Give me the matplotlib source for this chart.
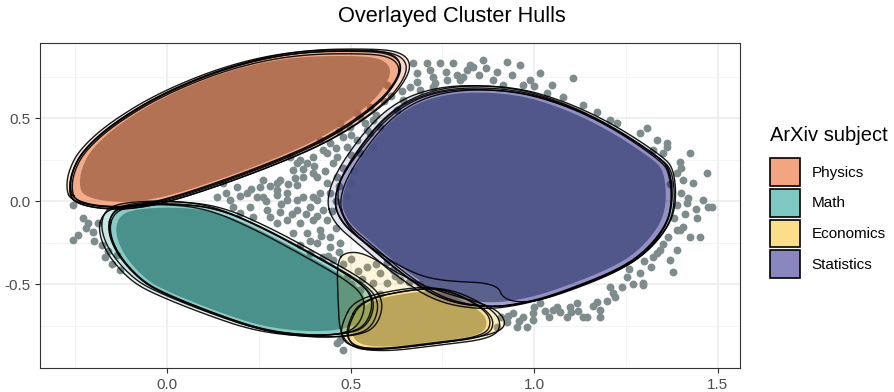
"""
Overlayed cluster hulls: scatter of documents + several bootstrap hulls per subject
"""
import numpy as np
import matplotlib.pyplot as plt
from matplotlib.colors import to_rgba
from matplotlib.patches import Patch

plt.rcParams['font.family'] = ['Liberation Sans', 'DejaVu Sans']
plt.rcParams['axes.unicode_minus'] = False

# --- data -------------------------------------------------------------
subjects = ['Physics', 'Math', 'Economics', 'Statistics']
fill_colors = ['#e94c05', '#009085', '#fbbc14', '#140f82']
point_color = '#7f8c8d'

x_ticks = [0.0, 0.5, 1.0, 1.5]
x_tick_labels = ['0.0', '0.5', '1.0', '1.5']
y_ticks = [-0.5, 0.0, 0.5]
y_tick_labels = ['-0.5', '0.0', '0.5']

# hull outlines (data coords)
physics_hull = [(-0.264, 0.066), (-0.251, 0.006), (-0.191, -0.030), (-0.101, -0.036),
                (0.022, 0.018), (0.262, 0.205), (0.444, 0.380), (0.580, 0.590),
                (0.629, 0.729), (0.640, 0.819), (0.616, 0.880), (0.553, 0.904),
                (0.354, 0.898), (0.172, 0.813), (-0.011, 0.651), (-0.147, 0.470),
                (-0.229, 0.307), (-0.259, 0.175)]
math_hull = [(-0.163, -0.175), (-0.150, -0.066), (-0.101, -0.024), (0.016, -0.012),
             (0.136, -0.042), (0.262, -0.163), (0.398, -0.325), (0.531, -0.494),
             (0.567, -0.596), (0.553, -0.729), (0.512, -0.795), (0.398, -0.813),
             (0.262, -0.777), (0.125, -0.675), (-0.011, -0.554), (-0.074, -0.476),
             (-0.136, -0.325)]
econ_hull = [(0.491, -0.747), (0.526, -0.596), (0.670, -0.530), (0.758, -0.530),
             (0.853, -0.627), (0.894, -0.717), (0.875, -0.819), (0.717, -0.861),
             (0.608, -0.892), (0.526, -0.886), (0.491, -0.837)]
econ_hull_wide = [(0.463, -0.367), (0.485, -0.307), (0.540, -0.313), (0.635, -0.446),
                  (0.744, -0.548), (0.880, -0.627), (0.926, -0.717), (0.907, -0.795),
                  (0.771, -0.849), (0.580, -0.898), (0.512, -0.892), (0.471, -0.807),
                  (0.466, -0.596)]
stats_hull = [(0.452, 0.024), (0.471, -0.127), (0.545, -0.265), (0.635, -0.434),
              (0.744, -0.596), (0.872, -0.645), (0.989, -0.608), (1.090, -0.536),
              (1.226, -0.416), (1.302, -0.307), (1.362, -0.145), (1.379, 0.006),
              (1.371, 0.187), (1.343, 0.259), (1.215, 0.446), (1.079, 0.590),
              (0.935, 0.681), (0.744, 0.681), (0.608, 0.548), (0.499, 0.247)]
stats_hull_alt = [(0.457, 0.066), (0.485, -0.145), (0.563, -0.295), (0.662, -0.428),
                  (0.744, -0.482), (0.899, -0.494), (0.916, -0.596), (0.989, -0.614),
                  (1.090, -0.548), (1.226, -0.428), (1.302, -0.319), (1.362, -0.151),
                  (1.376, 0.006), (1.368, 0.175), (1.343, 0.247), (1.215, 0.440),
                  (1.079, 0.584), (0.935, 0.669), (0.744, 0.675), (0.613, 0.542),
                  (0.504, 0.247)]

# small shifts / scalings of each hull (dx, dy, scale) -> the overlaid resamples
physics_shifts = [(0, 0, 1.0), (0.006, -0.006, 1.02), (-0.006, 0.004, 1.01),
                  (0.01, 0.0, 1.03), (0.0, -0.01, 0.99)]
math_shifts = [(0, 0, 1.0), (-0.012, 0.008, 1.02), (0.008, -0.008, 1.01),
               (-0.025, -0.005, 1.0), (0.012, 0.0, 1.03)]
econ_shifts = [(0, 0, 1.0), (0.01, -0.005, 1.04), (-0.012, 0.005, 1.02)]
stats_shifts = [(0, 0, 1.0), (0.005, 0.005, 1.01), (-0.01, 0.0, 1.02), (0.01, -0.005, 0.99)]

# grey points that sit outside the hulls
free_points = [
    (0.670, 0.831), (0.708, 0.831), (0.744, 0.831), (0.681, 0.771), (0.717, 0.789),
    (0.779, 0.831), (0.818, 0.789), (0.834, 0.807), (0.725, 0.747), (0.763, 0.729),
    (0.798, 0.729), (0.662, 0.687), (0.689, 0.669), (0.725, 0.687), (0.643, 0.608),
    (0.627, 0.548), (0.826, 0.819), (0.861, 0.849), (0.926, 0.837), (0.962, 0.819),
    (0.807, 0.747), (0.888, 0.729), (0.916, 0.699), (0.989, 0.729), (1.016, 0.771),
    (1.106, 0.741), (1.036, 0.651), (1.079, 0.627), (1.134, 0.578), (1.172, 0.536),
    (1.207, 0.488), (1.226, 0.470), (1.289, 0.410), (1.308, 0.440), (1.335, 0.367),
    (1.362, 0.349), (1.425, 0.289), (1.398, 0.235), (1.472, 0.169),
    (0.76, 0.78), (0.79, 0.76), (0.85, 0.76), (0.87, 0.80), (0.90, 0.78), (0.94, 0.76),
    (0.97, 0.70), (1.00, 0.69), (1.05, 0.70), (0.73, 0.71), (0.68, 0.72), (0.64, 0.66),
    (0.553, 0.566), (0.526, 0.506), (0.561, 0.488), (0.545, 0.428), (0.518, 0.530),
    (0.499, 0.446), (0.471, 0.470), (0.480, 0.386), (0.518, 0.367), (0.491, 0.325),
    (0.444, 0.349), (0.417, 0.367), (0.436, 0.289), (0.452, 0.229), (0.398, 0.265),
    (0.382, 0.229), (0.362, 0.247), (0.343, 0.187), (0.371, 0.145), (0.335, 0.265),
    (0.308, 0.127), (0.409, 0.145), (0.436, 0.108), (0.463, 0.145), (0.417, 0.048),
    (0.300, 0.066), (0.327, 0.048), (0.526, 0.289), (0.561, 0.325), (0.553, 0.410),
    (0.580, 0.446), (0.354, 0.229), (0.398, 0.169), (0.425, 0.307), (0.463, 0.265),
    (0.262, 0.127), (0.218, 0.048), (0.191, 0.084), (0.153, 0.108), (0.136, 0.024),
    (0.172, 0.006), (0.245, 0.024), (0.354, 0.006), (0.398, 0.024), (0.444, 0.048),
    (0.60, 0.70), (0.61, 0.63), (0.59, 0.60), (0.57, 0.52), (0.54, 0.47), (0.50, 0.40),
    (0.47, 0.42), (0.46, 0.32), (0.50, 0.28), (0.48, 0.20), (0.51, 0.18), (0.47, 0.09),
    (0.50, 0.11), (0.49, 0.03), (0.46, 0.00), (0.43, 0.18), (0.40, 0.21), (0.37, 0.19),
    (0.35, 0.14), (0.33, 0.10), (0.28, 0.09), (0.23, 0.07), (0.20, 0.03), (0.16, 0.05),
    (0.27, 0.00), (0.31, -0.02), (0.34, -0.08), (0.38, -0.08), (0.41, -0.09), (0.45, -0.06),
    (0.46, -0.16), (0.42, -0.21), (0.39, -0.24), (0.47, -0.31), (0.44, -0.33), (0.48, -0.38),
    (0.50, -0.35), (0.52, -0.42), (0.50, -0.50), (0.53, -0.47), (0.57, -0.38), (0.60, -0.37),
    (0.62, -0.45), (0.66, -0.49), (0.69, -0.50), (0.58, -0.56),
    (-0.256, -0.024),
    (0.253, 0.084), (0.300, 0.108), (0.354, 0.096), (0.262, 0.024), (0.300, 0.036),
    (0.327, 0.006), (0.371, 0.024), (0.409, 0.006), (0.180, -0.036), (0.226, -0.036),
    (0.273, -0.054), (0.308, -0.066), (0.354, -0.054), (0.390, -0.036), (0.425, -0.054),
    (0.327, -0.114), (0.362, -0.133), (0.398, -0.114), (0.436, -0.114), (0.300, -0.133),
    (0.343, -0.193), (0.382, -0.193), (0.417, -0.175), (0.444, -0.217), (0.362, -0.265),
    (0.409, -0.253), (0.444, -0.277), (0.390, -0.313), (0.425, -0.337), (0.452, -0.355),
    (0.471, -0.253), (0.281, -0.096), (0.234, -0.096), (0.199, -0.072),
    (0.545, -0.398), (0.580, -0.434), (0.616, -0.416), (0.561, -0.494), (0.599, -0.494),
    (0.635, -0.476), (0.491, -0.458), (0.526, -0.536), (0.471, -0.837), (0.480, -0.898),
    (0.463, -0.855),
    (0.943, -0.675), (0.970, -0.699), (0.997, -0.675), (1.016, -0.614), (1.063, -0.639),
    (1.071, -0.669), (1.090, -0.699), (1.098, -0.639), (1.117, -0.614), (1.145, -0.699),
    (1.172, -0.608), (1.180, -0.657), (1.215, -0.554), (1.207, -0.518), (1.253, -0.458),
    (1.289, -0.434), (1.297, -0.494), (1.324, -0.337), (1.371, -0.355), (1.379, -0.428),
    (0.954, -0.759), (0.981, -0.759), (0.926, -0.729), (1.052, -0.657), (1.134, -0.699),
    (1.452, -0.217), (1.398, -0.175), (1.343, -0.295), (0.997, -0.717),
    (0.93, -0.69), (0.96, -0.72), (1.00, -0.64), (1.03, -0.66), (1.04, -0.70), (1.10, -0.67),
    (1.12, -0.66), (1.16, -0.63), (1.20, -0.60), (1.22, -0.58), (1.18, -0.70), (0.90, -0.76),
    (0.91, -0.70),
    (1.390, 0.169), (1.406, 0.127), (1.433, 0.108), (1.461, 0.006), (1.474, -0.036),
    (1.417, -0.012), (1.390, -0.024), (1.444, -0.102), (1.406, -0.157), (1.390, -0.175),
    (1.425, -0.217), (1.365, -0.217), (1.390, -0.295), (1.335, -0.313), (1.297, -0.506),
    (1.362, 0.325), (1.352, 0.289), (1.324, 0.307), (1.485, -0.036),
    (1.40, 0.05), (1.42, 0.02), (1.44, -0.05), (1.41, -0.08), (1.38, -0.10), (1.37, 0.10),
    (1.40, 0.20), (1.35, -0.26), (1.32, -0.40), (1.30, -0.36), (1.27, -0.50), (1.24, -0.52),
    (1.26, -0.41),
    (-0.215, -0.133), (-0.202, -0.187), (-0.188, -0.133), (-0.243, -0.205),
    (-0.256, -0.235), (-0.177, -0.265), (-0.169, -0.337), (-0.136, -0.325),
    (-0.128, -0.416), (-0.22, -0.16), (-0.20, -0.24), (-0.16, -0.30), (-0.15, -0.38),
    (-0.23, -0.10),
]


def chaikin(pts, n=4):
    # corner cutting -> rounded hull like geom_mark_hull
    pts = np.asarray(pts, dtype=float)
    for _ in range(n):
        nxt = np.roll(pts, -1, axis=0)
        new = np.empty((2 * len(pts), 2))
        new[0::2] = 0.75 * pts + 0.25 * nxt
        new[1::2] = 0.25 * pts + 0.75 * nxt
        pts = new
    return np.vstack([pts, pts[:1]])


def moved(pts, dx, dy, s):
    pts = np.asarray(pts, dtype=float)
    c = pts.mean(axis=0)
    return c + (pts - c) * s + np.array([dx, dy])


clusters = [
    (physics_hull, physics_shifts, [], 0.94),
    (math_hull, math_shifts, [], 0.94),
    (econ_hull, econ_shifts, [econ_hull_wide], 0.92),
    (stats_hull, stats_shifts, [stats_hull_alt], 0.96),
]

# --- plot -------------------------------------------------------------
fig = plt.figure(figsize=(8.94, 3.92), dpi=100)
ax = fig.add_axes([0.0447, 0.0612, 0.783, 0.8291])
ax.set_xlim(-0.346, 1.561)
ax.set_ylim(-1.006, 0.952)

# dense point mass inside each cluster
for hull, shifts, extra, core in clusters:
    c = chaikin(moved(hull, 0, 0, core))
    ax.fill(c[:, 0], c[:, 1], color='#8a9697', lw=0, zorder=2)

pts = np.array(free_points)
ax.scatter(pts[:, 0], pts[:, 1], s=32, color=point_color, lw=0, zorder=3)

for (hull, shifts, extra, core), col in zip(clusters, fill_colors):
    shapes = [moved(hull, dx, dy, s) for dx, dy, s in shifts] + [np.array(e) for e in extra]
    alpha = 1 - (1 - 0.45) ** (1 / len(shapes))
    for shp in shapes:
        p = chaikin(shp)
        ax.fill(p[:, 0], p[:, 1], color=col, alpha=alpha, lw=0, zorder=4)
        ax.plot(p[:, 0], p[:, 1], color='black', lw=1.0, alpha=0.9, zorder=5)

ax.set_xticks(x_ticks)
ax.set_xticklabels(x_tick_labels)
ax.set_yticks(y_ticks)
ax.set_yticklabels(y_tick_labels)
ax.set_xticks([-0.25, 0.25, 0.75, 1.25], minor=True)
ax.set_yticks([-0.75, -0.25, 0.25, 0.75], minor=True)
ax.grid(which='major', color='#ebebeb', lw=1.1)
ax.grid(which='minor', color='#f3f3f3', lw=0.6)
ax.set_axisbelow(True)
ax.tick_params(which='major', length=3.5, width=0.8, color='#333333',
               labelcolor='#4d4d4d', labelsize=11)
ax.tick_params(which='minor', length=0)
for sp in ax.spines.values():
    sp.set_color('#333333')
    sp.set_linewidth(0.8)

fig.text(0.505, 0.957, 'Overlayed Cluster Hulls', ha='center', va='center', fontsize=15.7)

# legend: title placed by hand, keys below it
fig.text(770 / 894, 1 - 135 / 392, 'ArXiv subject', ha='left', va='center', fontsize=14.5)
handles = [Patch(facecolor=to_rgba(c, 0.5), edgecolor='black', linewidth=1.2) for c in fill_colors]
fig.legend(handles, subjects, loc='upper left', bbox_to_anchor=(0.861, 0.596),
           frameon=False, fontsize=11, handlelength=2.0, handleheight=2.4,
           labelspacing=0.2, handletextpad=0.75, borderpad=0, borderaxespad=0)

plt.savefig('out.png', dpi=100)
